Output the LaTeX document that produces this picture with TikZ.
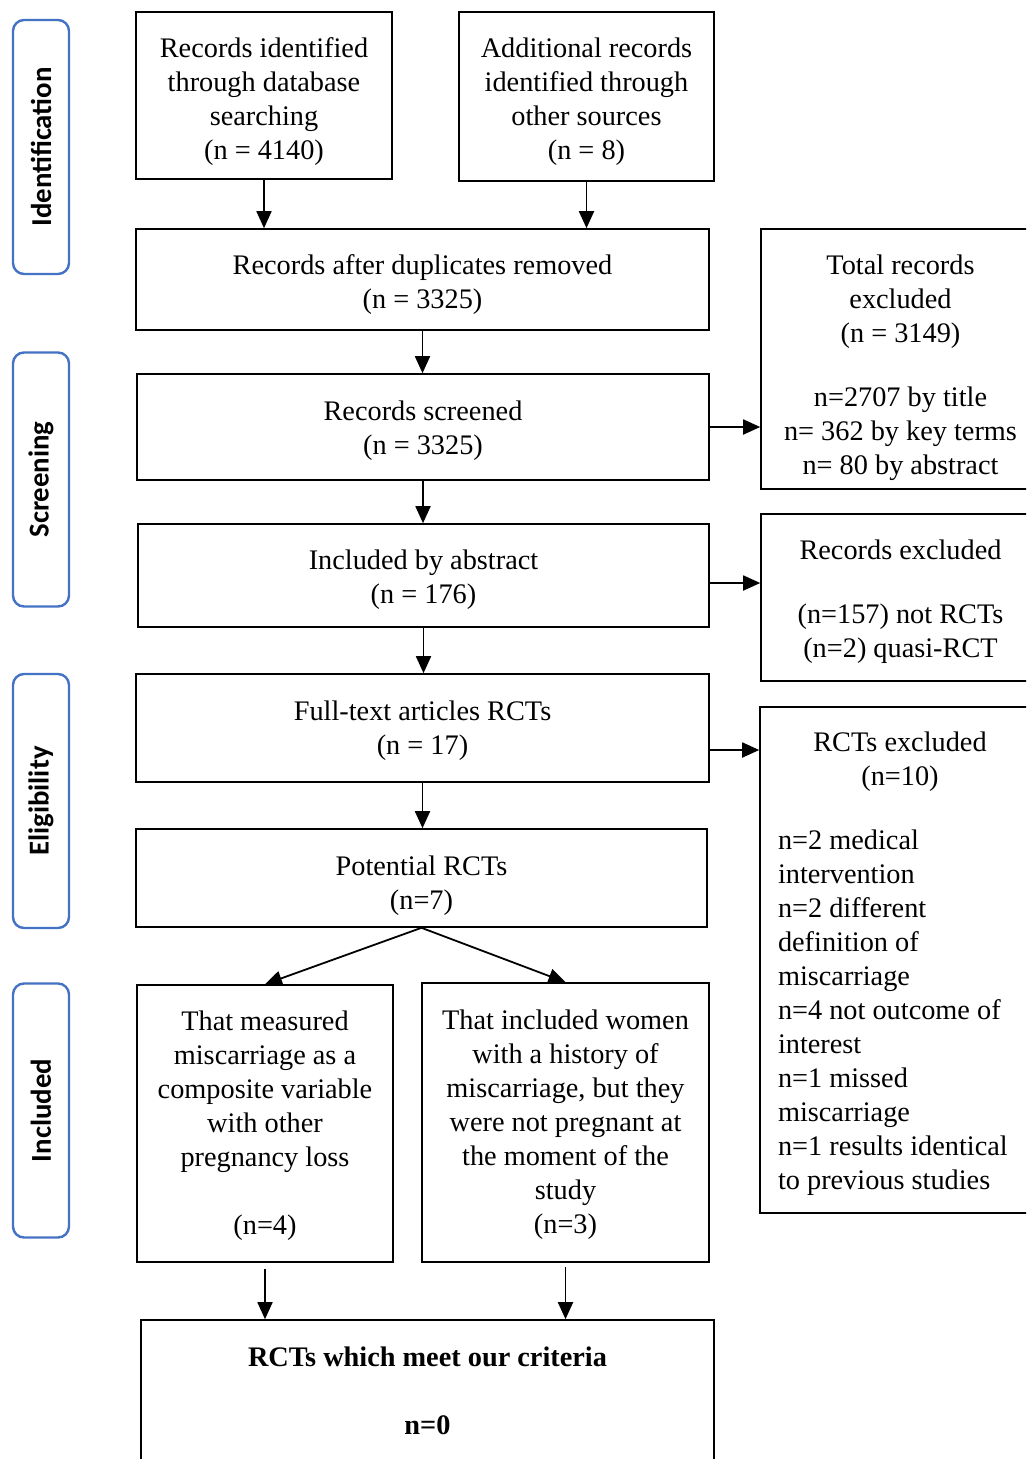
\documentclass[tikz,border=0pt]{standalone}
\usepackage{fontspec}
\setmainfont{Liberation Serif}
\newfontfamily\sidefont{Carlito}
\usetikzlibrary{arrows.meta,calc}
\definecolor{sideblue}{HTML}{4472C4}
% box text: a centred stack of lines, lowered by #1 pt inside its box
\newcommand\bxt[2][0]{\raisebox{-#1pt}[\height][\depth]{\begin{tabular}{@{}c@{}}#2\end{tabular}}}
\newcommand\bxl[2][0]{\raisebox{-#1pt}[\height][\depth]{\begin{tabular}{@{}p{244pt}@{}}#2\end{tabular}}}
\begin{document}
\begin{tikzpicture}[x=1pt,y=-1pt,
  box/.style={draw=black, line width=1.6pt, rectangle, inner sep=0pt,
    font=\fontsize{28.3}{34}\selectfont},
  side/.style={draw=sideblue, line width=2.4pt, rounded corners=11pt, inner sep=0pt,
    rotate=90, minimum width=254pt, minimum height=56pt,
    font=\sidefont\bfseries\fontsize{28.8}{34}\selectfont},
  arr/.style={line width=1.8pt, -{Triangle[length=17pt,width=15pt]}}]
\useasboundingbox (0,0) rectangle (1026,1459);
\clip (0,0) rectangle (1026,1459);
\fill[white] (0,0) rectangle (1026,1459);

% side labels
\node[side] (sid) at (41,147) {Identification};
\node[side] (ssc) at (41,479.5) {Screening};
\node[side] (sel) at (41,801) {Eligibility};
\node[side] (sin) at (41,1110.5) {Included};

% main boxes
\node[box, minimum width=256pt, minimum height=167pt] (a) at (264,95.5)
  {\bxt[6.5]{Records identified\\through database\\searching\\(n = 4140)}};
\node[box, minimum width=255pt, minimum height=169pt] (b) at (586.5,96.5)
  {\bxt[5.5]{Additional records\\identified through\\other sources\\(n = 8)}};
\node[box, minimum width=573pt, minimum height=101pt] (c) at (422.5,279.5)
  {\bxt[5.5]{Records after duplicates removed\\(n = 3325)}};
\node[box, minimum width=572pt, minimum height=106pt] (d) at (423,427)
  {\bxt[3.5]{Records screened\\(n = 3325)}};
\node[box, minimum width=571pt, minimum height=103pt] (e) at (423.5,575.5)
  {\bxt[4.5]{Included by abstract\\(n = 176)}};
\node[box, minimum width=573pt, minimum height=108pt] (f) at (422.5,728)
  {\bxt[2.5]{Full-text articles RCTs\\(n = 17)}};
\node[box, minimum width=571pt, minimum height=98pt] (g) at (421.5,878)
  {\bxt[7.5]{Potential RCTs\\(n=7)}};
\node[box, minimum width=256pt, minimum height=277pt] (h) at (265,1123.5)
  {\bxt[2.5]{That measured\\miscarriage as a\\composite variable\\with other\\pregnancy loss\\ \\(n=4)}};
\node[box, minimum width=287pt, minimum height=279pt] (i) at (565.5,1122.5)
  {\bxt[2]{That included women\\with a history of\\miscarriage, but they\\were not pregnant at\\the moment of the\\study\\(n=3)}};
\node[box, minimum width=573pt, minimum height=142pt,
  font=\fontsize{28.3}{34}\selectfont\bfseries] (j) at (427.5,1391)
  {\bxt[3]{\bfseries RCTs which meet our criteria\\ \\\bfseries n=0}};

% right boxes
\node[box, minimum width=279pt, minimum height=260pt] (r1) at (900.5,359)
  {\bxt[8.5]{Total records\\excluded\\(n = 3149)\\[30pt]n=2707 by title\\n= 362 by key terms\\n= 80 by abstract}};
\node[box, minimum width=279pt, minimum height=167pt] (r2) at (900.5,597.5)
  {\bxt[4]{Records excluded\\[30pt](n=157) not RCTs\\(n=2) quasi-RCT}};
\node[box, minimum width=280pt, minimum height=506pt] (r3) at (900,960)
  {\bxl[3.5]{\multicolumn{1}{@{}c@{}}{RCTs excluded}\\\multicolumn{1}{@{}c@{}}{(n=10)}\\[30pt]n=2 medical\\intervention\\n=2 different\\definition of\\miscarriage\\n=4 not outcome of\\interest\\n=1 missed\\miscarriage\\n=1 results identical\\to previous studies}};

% arrows
\draw[arr] (a.south) -- (a.south |- c.north);
\draw[arr] (b.south) -- (b.south |- c.north);
\draw[arr] (c.south) -- (c.south |- d.north);
\draw[arr] (d.south) -- (d.south |- e.north);
\draw[arr] (e.south) -- (e.south |- f.north);
\draw[arr] (f.south) -- (f.south |- g.north);
\draw[arr] (d.east) -- (d.east -| r1.west);
\coordinate (eo) at ($(e.east)+(0,7.5)$);
\draw[arr] (eo) -- (eo -| r2.west);
\coordinate (fo) at ($(f.east)+(0,22)$);
\draw[arr] (fo) -- (fo -| r3.west);
\draw[arr] (g.south) -- (h.north);
\draw[arr] (g.south) -- (i.north);
\coordinate (ho) at ($(h.south)+(0,6)$);
\draw[arr] (ho) -- (ho |- j.north);
\coordinate (io) at ($(i.south)+(0,4)$);
\draw[arr] (io) -- (io |- j.north);
\end{tikzpicture}
\end{document}
